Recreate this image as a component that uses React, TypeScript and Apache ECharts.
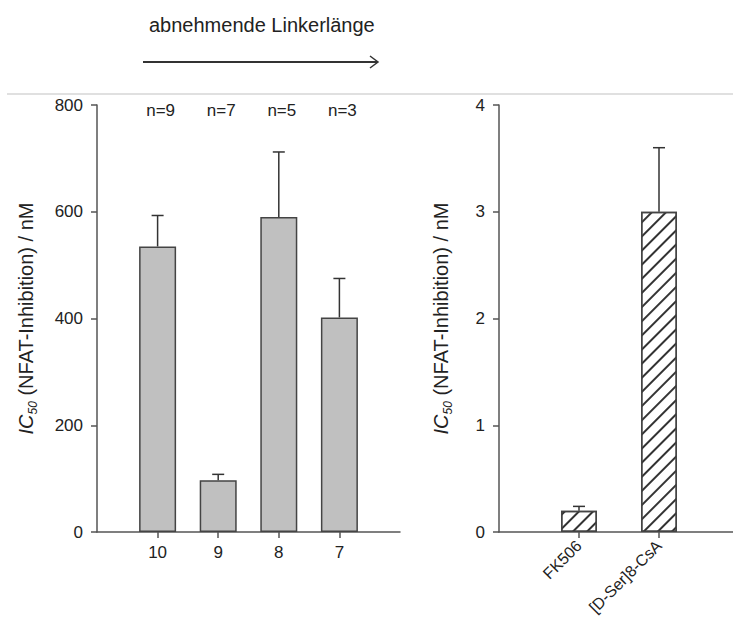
import React, { useEffect, useRef } from "react";
import * as echarts from "echarts";

const leftCats = ["", "10", "9", "8", "7", ""];
const leftValues: (number | string)[] = ["-", 535, 97, 590, 402, "-"];
const leftErrors = [
  [1, 535, 58],
  [2, 97, 11],
  [3, 590, 122],
  [4, 402, 73],
];
const nLabels = ["n=9", "n=7", "n=5", "n=3"];
const nLabelPos = [1, 2, 3, 4];
const nLabelY = 789;
const leftTicks = { min: 0, max: 800, interval: 200 };

const rightCats = ["", "FK506", "[D-Ser]8-CsA", ""];
const rightValues: (number | string)[] = ["-", 0.2, 3.0, "-"];
const rightErrors = [
  [1, 0.2, 0.04],
  [2, 3.0, 0.6],
];
const rightTicks = { min: 0, max: 4, interval: 1 };

const FONT = "Arial, 'Liberation Sans', sans-serif";
const AX = "#555";

const yName = "{i|IC}{s|50}{t| (NFAT-Inhibition) / nM}";
const yNameStyle = {
  fontFamily: FONT,
  color: "#222",
  rich: {
    i: { fontStyle: "italic", fontSize: 20, lineHeight: 26, fontFamily: FONT, color: "#222" },
    s: { fontStyle: "italic", fontSize: 12, lineHeight: 26, verticalAlign: "bottom", fontFamily: FONT, color: "#222" },
    t: { fontSize: 20, lineHeight: 26, fontFamily: FONT, color: "#222" },
  },
};

function errRender(params: any, api: any) {
  const x = api.value(0);
  const v = api.value(1);
  const e = api.value(2);
  const p0 = api.coord([x, v]);
  const p1 = api.coord([x, v + e]);
  const hw = 6;
  const st = { stroke: "#333", lineWidth: 1.5 };
  return {
    type: "group",
    children: [
      { type: "line", shape: { x1: p0[0], y1: p0[1], x2: p1[0], y2: p1[1] }, style: st },
      { type: "line", shape: { x1: p1[0] - hw, y1: p1[1], x2: p1[0] + hw, y2: p1[1] }, style: st },
    ],
  };
}

export default function App() {
  const ref = useRef<HTMLDivElement>(null);
  useEffect(() => {
    document.body.style.margin = "0";
    const chart = echarts.init(ref.current!, null, { renderer: "svg" });
    const tickFn = (n: number) => (idx: number) => idx > 0 && idx < n - 1;
    const option: any = {
      animation: false,
      backgroundColor: "#fff",
      grid: [
        { left: 97, top: 105, width: 303, height: 427, outerBoundsMode: "none", containLabel: false },
        { left: 499, top: 105, width: 240, height: 427, outerBoundsMode: "none", containLabel: false },
      ],
      xAxis: [
        {
          type: "category",
          gridIndex: 0,
          data: leftCats,
          boundaryGap: false,
          axisLine: { lineStyle: { color: AX, width: 1.5 } },
          axisTick: { interval: tickFn(leftCats.length), length: 6, lineStyle: { color: AX, width: 1.5 } },
          axisLabel: { interval: 0, fontSize: 17, color: "#222", fontFamily: FONT, margin: 12 },
        },
        {
          type: "category",
          gridIndex: 1,
          data: rightCats,
          boundaryGap: false,
          axisLine: { lineStyle: { color: AX, width: 1.5 } },
          axisTick: { interval: tickFn(rightCats.length), length: 6, lineStyle: { color: AX, width: 1.5 } },
          axisLabel: { interval: 0, rotate: 45, fontSize: 16, color: "#222", fontFamily: FONT, margin: 11 },
        },
      ],
      yAxis: [
        {
          type: "value",
          gridIndex: 0,
          ...leftTicks,
          splitLine: { show: false },
          axisLine: { show: true, lineStyle: { color: AX, width: 1.5 } },
          axisTick: { show: true, length: 6, lineStyle: { color: AX, width: 1.5 } },
          axisLabel: { fontSize: 17, color: "#222", fontFamily: FONT, margin: 14 },
          name: yName,
          nameLocation: "middle",
          nameRotate: 90,
          nameGap: 58,
          nameTextStyle: yNameStyle,
        },
        {
          type: "value",
          gridIndex: 1,
          ...rightTicks,
          splitLine: { show: false },
          axisLine: { show: true, lineStyle: { color: AX, width: 1.5 } },
          axisTick: { show: true, length: 6, lineStyle: { color: AX, width: 1.5 } },
          axisLabel: { fontSize: 17, color: "#222", fontFamily: FONT, margin: 14 },
          name: yName,
          nameLocation: "middle",
          nameRotate: 90,
          nameGap: 45,
          nameTextStyle: yNameStyle,
        },
      ],
      series: [
        {
          type: "bar",
          xAxisIndex: 0,
          yAxisIndex: 0,
          data: leftValues,
          barWidth: 37,
          itemStyle: { color: "#c0c0c0", borderColor: "#444", borderWidth: 1.5 },
        },
        {
          type: "custom",
          xAxisIndex: 0,
          yAxisIndex: 0,
          data: leftErrors,
          renderItem: errRender,
          z: 5,
        },
        {
          type: "custom",
          xAxisIndex: 0,
          yAxisIndex: 0,
          data: nLabelPos.map((p, i) => [p, nLabelY, i]),
          renderItem: (params: any, api: any) => {
            const pt = api.coord([api.value(0), api.value(1)]);
            return {
              type: "text",
              x: pt[0] + 3,
              y: pt[1],
              style: {
                text: nLabels[params.dataIndex],
                textAlign: "center",
                textVerticalAlign: "middle",
                fontSize: 17,
                fontFamily: FONT,
                fill: "#222",
              },
            };
          },
        },
        {
          type: "bar",
          xAxisIndex: 1,
          yAxisIndex: 1,
          data: rightValues,
          barWidth: 36,
          itemStyle: {
            color: "#fff",
            borderColor: "#444",
            borderWidth: 1.5,
            decal: {
              symbol: "rect",
              symbolSize: 1,
              color: "#333",
              backgroundColor: "#fff",
              dashArrayX: [1, 0],
              dashArrayY: [1.3, 8],
              rotation: -Math.PI / 4,
            },
          },
        },
        {
          type: "custom",
          xAxisIndex: 1,
          yAxisIndex: 1,
          data: rightErrors,
          renderItem: errRender,
          z: 5,
        },
      ],
      graphic: [
        {
          type: "line",
          shape: { x1: 7, y1: 94, x2: 733, y2: 94 },
          style: { stroke: "#e0e0e0", lineWidth: 2 },
        },
        {
          type: "text",
          x: 149,
          y: 25,
          style: {
            text: "abnehmende Linkerlänge",
            fontSize: 20,
            fontFamily: FONT,
            fill: "#222",
            textVerticalAlign: "middle",
          },
        },
        {
          type: "line",
          shape: { x1: 143, y1: 62, x2: 377, y2: 62 },
          style: { stroke: "#333", lineWidth: 1.8 },
        },
        {
          type: "polyline",
          shape: { points: [[370, 56], [378, 62], [370, 68]] },
          style: { stroke: "#333", lineWidth: 1.5, fill: "none" },
        },
      ],
    };
    chart.setOption(option);
    return () => chart.dispose();
  }, []);
  return <div ref={ref} style={{ width: 733, height: 619 }} />;
}
